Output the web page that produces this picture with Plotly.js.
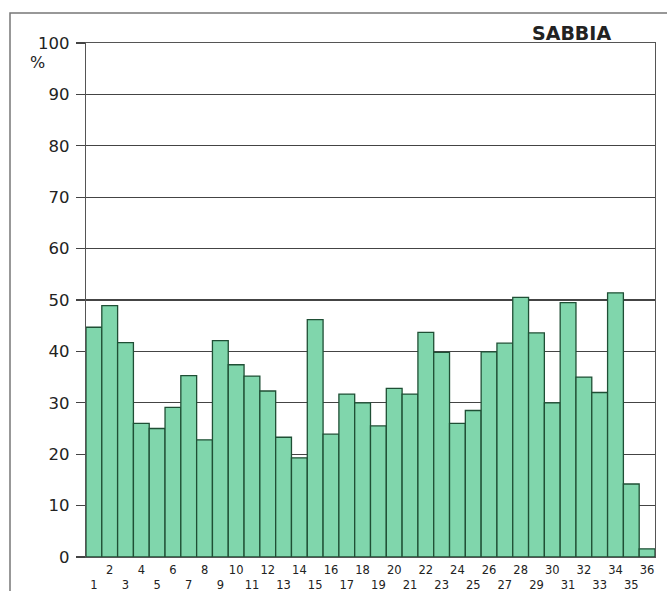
<!DOCTYPE html>
<html>
<head>
<meta charset="utf-8">
<script src="https://cdn.plot.ly/plotly-3.0.1.min.js"></script>
<style>html,body{margin:0;padding:0;background:#fff;}#chart{width:667px;height:591px;}</style>
</head>
<body>
<div id="chart"></div>
<script>
// Campioni 1..36 — percentuale di sabbia
var categories = [1,2,3,4,5,6,7,8,9,10,11,12,13,14,15,16,17,18,19,20,21,22,23,24,25,26,27,28,29,30,31,32,33,34,35,36];
var sabbia = [44.7,48.9,41.7,26.0,25.0,29.1,35.3,22.8,42.1,37.4,35.2,32.3,23.3,19.3,46.2,23.9,31.7,30.0,25.5,32.8,31.7,43.7,39.8,26.0,28.5,39.9,41.6,50.5,43.6,30.0,49.5,35.0,32.0,51.4,14.2,1.6];
var yTicks = [0,10,20,30,40,50,60,70,80,90,100];
var xTickText = categories.map(function(c){ return (c % 2 === 0) ? String(c) : '<br>' + c; });
var chartTitle = 'SABBIA';
var unitLabel = '%';

var trace = {
  type: 'bar',
  x: categories,
  y: sabbia,
  marker: {color: '#80d6ac', line: {color: '#1f4f35', width: 1.3}},
  hoverinfo: 'x+y'
};

var W = 569, H = 514;
var layout = {
  width: 667, height: 591,
  margin: {l: 86, r: 12, t: 43, b: 34},
  paper_bgcolor: '#ffffff',
  plot_bgcolor: '#ffffff',
  showlegend: false,
  bargap: 0,
  font: {family: 'DejaVu Sans, Arial, sans-serif', color: '#222'},
  xaxis: {
    range: [0.5, 36.5],
    tickvals: categories,
    ticktext: xTickText,
    tickangle: 0,
    tickfont: {size: 11.5, color: '#222'},
    ticks: '',
    showgrid: false,
    zeroline: false,
    showline: true, mirror: true, linecolor: '#555', linewidth: 1.2,
    ticklabelstandoff: 2,
    fixedrange: true
  },
  yaxis: {
    range: [0, 100],
    tickvals: yTicks,
    tickfont: {size: 16.5, color: '#222'},
    ticks: 'outside', ticklen: 9, tickcolor: '#444', tickwidth: 1.2,
    ticklabelstandoff: 3,
    showgrid: true, gridcolor: '#444', gridwidth: 1.1,
    zeroline: false,
    showline: true, mirror: true, linecolor: '#555', linewidth: 1.2,
    fixedrange: true
  },
  shapes: [{
    type: 'rect', xref: 'paper', yref: 'paper',
    x0: (10 - 86) / W, x1: (700 - 86) / W,
    y0: (557 - 620) / H, y1: (557 - 13) / H,
    line: {color: '#777', width: 1.5}, fillcolor: 'rgba(0,0,0,0)', layer: 'below'
  }],
  annotations: [
    {text: '<b>' + chartTitle + '</b>', xref: 'paper', yref: 'paper',
     x: (571 - 86) / W, y: (557 - 33) / H, xanchor: 'center', yanchor: 'middle',
     showarrow: false, font: {size: 19, color: '#222', family: 'DejaVu Sans, Arial, sans-serif'}},
    {text: unitLabel, xref: 'paper', yref: 'paper',
     x: (37 - 86) / W, y: (557 - 63) / H, xanchor: 'center', yanchor: 'middle',
     showarrow: false, font: {size: 16, color: '#222'}}
  ]
};

Plotly.newPlot('chart', [trace], layout, {displayModeBar: false, staticPlot: true});
</script>
</body>
</html>
